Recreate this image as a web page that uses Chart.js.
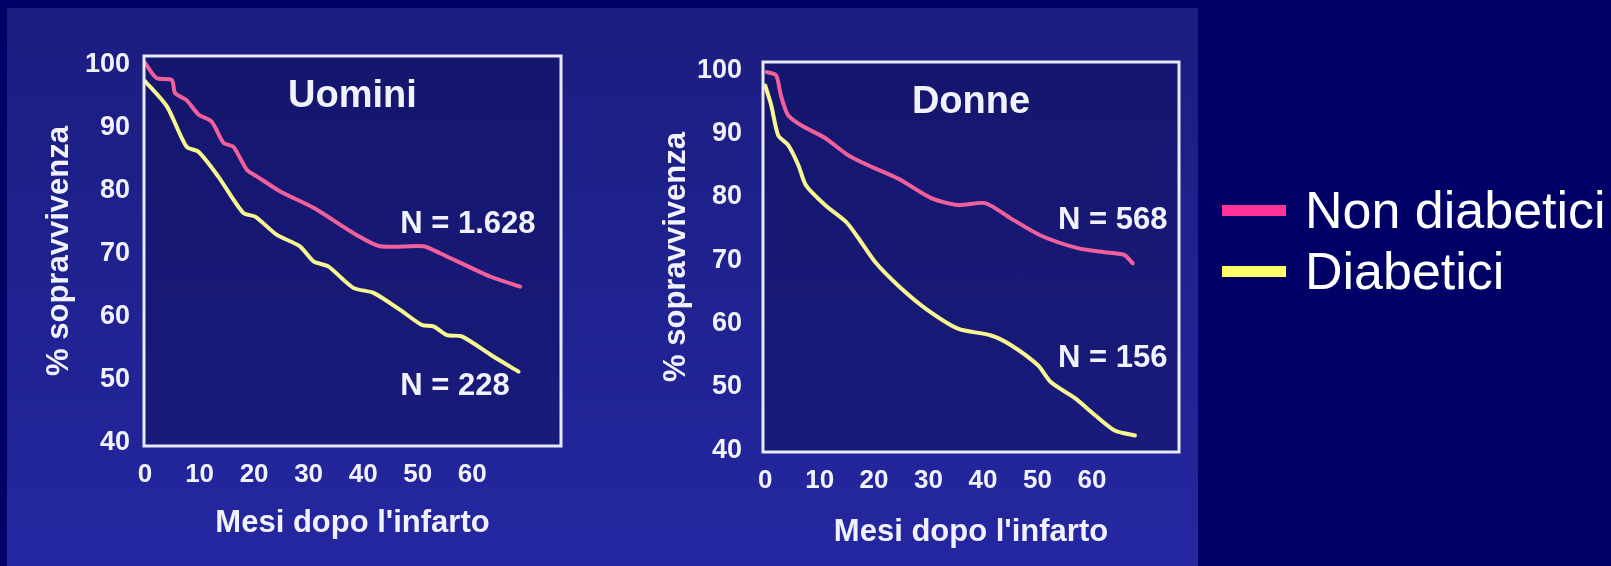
<!DOCTYPE html>
<html lang="it">
<head>
    <meta charset="UTF-8">
    <title>Sopravvivenza dopo infarto</title>
    <script src="https://cdn.jsdelivr.net/npm/chart.js@4/dist/chart.umd.min.js"></script>
    <style>
        body {
            margin: 0;
            width: 1611px;
            height: 566px;
            background: #000066;
            overflow: hidden;
            position: relative;
            font-family: "Liberation Sans", Arial, sans-serif;
        }

        #photo {
            position: absolute;
            left: 7px;
            top: 8px;
            width: 1191px;
            height: 558px;
            background: linear-gradient(to bottom, #1b1d80, #2427a0);
        }

        canvas {
            position: absolute;
            top: 0;
        }

        #chart-men { left: 0; }
        #chart-women { left: 610px; }

        .legend-row {
            position: absolute;
            left: 1222px;
            height: 61px;
            color: #ffffff;
            font-size: 52px;
            line-height: 61px;
            white-space: nowrap;
        }
        .legend-row span.swatch {
            display: inline-block;
            width: 64px;
            height: 11px;
            vertical-align: middle;
            margin-right: 19px;
            position: relative;
            top: -4px;
        }
    </style>
</head>
<body>
    <div id="photo"></div>
    <canvas id="chart-men" width="600" height="566"></canvas>
    <canvas id="chart-women" width="600" height="566"></canvas>

    <div class="legend-row" style="top:180px"><span class="swatch" style="background:#ff3399"></span>Non diabetici</div>
    <div class="legend-row" style="top:241px"><span class="swatch" style="background:#ffff66"></span>Diabetici</div>

    <script>
        // tick labels
        const xTicks = [0, 10, 20, 30, 40, 50, 60];
        const yTicks = [40, 50, 60, 70, 80, 90, 100];

        // Uomini (men)
        const menNonDiabMonths = [0, 2.1, 4.9, 5.5, 7.6, 9.8, 12.2, 14.4, 16.2, 18.7, 20.5, 24.8, 30.9, 38.8, 43.1, 51.1, 54.1, 63.3, 68.8];
        const menNonDiabSurv   = [100.3, 97.9, 97.6, 95.5, 94.4, 92.1, 91, 87.6, 87, 83.3, 82.3, 79.9, 77.3, 73, 71.2, 71.2, 70.1, 66.4, 64.8];
        const menDiabMonths = [0, 4, 7.6, 9.8, 13.4, 18, 20.2, 24.2, 28.4, 30.9, 33.6, 38.2, 41.9, 46.8, 50.8, 52.9, 55.4, 58.1, 63.9, 68.5];
        const menDiabSurv   = [97.4, 93.4, 87, 86.2, 82.3, 76.5, 75.9, 73, 71.2, 68.8, 68, 64.6, 63.8, 61.1, 58.7, 58.5, 57.1, 56.9, 53.7, 51.3];

        // Donne (women)
        const womenNonDiabMonths = [0.3, 2, 2.9, 4.2, 6.6, 11, 15.2, 18.9, 24.4, 30.5, 35.4, 40.4, 45.1, 50.6, 57.4, 62.9, 66, 67.5];
        const womenNonDiabSurv   = [99.7, 99.2, 96, 92.9, 91.3, 89.3, 86.6, 85, 82.9, 79.8, 78.7, 79, 76.6, 73.9, 71.9, 71.2, 70.8, 69.5];
        const womenDiabMonths = [0, 1.1, 2.4, 4.2, 6.1, 7.5, 11, 14.9, 17.1, 20.2, 24.4, 29.4, 35.4, 41.5, 45.1, 50.1, 52.5, 56.9, 60.6, 64.2, 67.9];
        const womenDiabSurv   = [97.6, 94.5, 89.7, 88.2, 85, 81.8, 78.7, 76, 73.5, 69.7, 66, 62.4, 59.2, 58.1, 56.6, 53.4, 50.7, 48.2, 45.5, 43.1, 42.3];

        const textColor = '#f2f2ff';
        const pink = '#f2609c';
        const yellow = '#f8f890';

        function toPoints(xs, ys) {
            return xs.map((x, i) => ({ x: x, y: ys[i] }));
        }

        // fills the plot box, draws the white frame and the texts inside it
        const panelBox = {
            id: 'panelBox',
            beforeDatasetsDraw(chart, args, opts) {
                const a = chart.chartArea;
                const ctx = chart.ctx;
                ctx.save();
                ctx.fillStyle = 'rgba(8, 8, 70, 0.35)';
                ctx.fillRect(a.left, a.top, a.right - a.left, a.bottom - a.top);
                ctx.restore();
            },
            afterDatasetsDraw(chart, args, opts) {
                const a = chart.chartArea;
                const ctx = chart.ctx;
                ctx.save();
                ctx.strokeStyle = '#e8eaff';
                ctx.lineWidth = 3;
                ctx.strokeRect(a.left, a.top, a.right - a.left, a.bottom - a.top);

                ctx.fillStyle = textColor;
                ctx.textBaseline = 'middle';
                ctx.textAlign = 'center';
                ctx.font = 'bold 38px "Liberation Sans", Arial, sans-serif';
                ctx.fillText(opts.heading, (a.left + a.right) / 2, a.top + 41);

                ctx.textAlign = 'left';
                ctx.font = 'bold 31px "Liberation Sans", Arial, sans-serif';
                opts.labels.forEach(l => {
                    ctx.fillText(l.text, chart.scales.x.getPixelForValue(l.x), chart.scales.y.getPixelForValue(l.y));
                });
                ctx.restore();
            }
        };

        function makePanel(canvasId, nonDiab, diab, cfg) {
            const ctx = document.getElementById(canvasId).getContext('2d');
            return new Chart(ctx, {
                type: 'line',
                data: {
                    datasets: [{
                        label: 'Non diabetici',
                        data: nonDiab,
                        borderColor: pink,
                        borderWidth: 4,
                        pointRadius: 0,
                        tension: 0.25,
                        borderCapStyle: 'round',
                        borderJoinStyle: 'round'
                    }, {
                        label: 'Diabetici',
                        data: diab,
                        borderColor: yellow,
                        borderWidth: 4,
                        pointRadius: 0,
                        tension: 0.25,
                        borderCapStyle: 'round',
                        borderJoinStyle: 'round'
                    }]
                },
                options: {
                    responsive: false,
                    animation: false,
                    devicePixelRatio: 1,
                    layout: { padding: cfg.padding },
                    plugins: {
                        legend: { display: false },
                        tooltip: { enabled: false },
                        panelBox: { heading: cfg.heading, labels: cfg.labels }
                    },
                    scales: {
                        x: {
                            type: 'linear',
                            min: cfg.xMin,
                            max: cfg.xMax,
                            afterBuildTicks: s => { s.ticks = xTicks.map(v => ({ value: v })); },
                            afterFit: s => { s.height = cfg.xHeight; },
                            grid: { display: false, drawTicks: false },
                            border: { display: false },
                            ticks: {
                                autoSkip: false,
                                maxRotation: 0,
                                padding: 13,
                                color: textColor,
                                font: { family: '"Liberation Sans", Arial, sans-serif', size: 26, weight: 'bold' }
                            },
                            title: {
                                display: true,
                                text: "Mesi dopo l'infarto",
                                color: textColor,
                                padding: { top: 0, bottom: cfg.xTitlePad },
                                font: { family: '"Liberation Sans", Arial, sans-serif', size: 31, weight: 'bold' }
                            }
                        },
                        y: {
                            min: cfg.yMin,
                            max: cfg.yMax,
                            afterBuildTicks: s => { s.ticks = yTicks.map(v => ({ value: v })); },
                            afterFit: s => { s.width = cfg.yWidth; },
                            grid: { display: false, drawTicks: false },
                            border: { display: false },
                            ticks: {
                                padding: cfg.yTickPad,
                                color: textColor,
                                font: { family: '"Liberation Sans", Arial, sans-serif', size: 27, weight: 'bold' }
                            },
                            title: {
                                display: true,
                                text: '% sopravvivenza',
                                color: textColor,
                                padding: { top: cfg.yTitlePad, bottom: 0 },
                                font: { family: '"Liberation Sans", Arial, sans-serif', size: 31, weight: 'bold' }
                            }
                        }
                    }
                },
                plugins: [panelBox]
            });
        }

        makePanel('chart-men',
            toPoints(menNonDiabMonths, menNonDiabSurv),
            toPoints(menDiabMonths, menDiabSurv), {
                heading: 'Uomini',
                labels: [
                    { text: 'N = 1.628', x: 46.8, y: 74.6 },
                    { text: 'N = 228', x: 46.8, y: 48.9 }
                ],
                padding: { left: 0, top: 56, right: 39, bottom: 0 },
                xMin: -0.2, xMax: 76.3, yMin: 39.5, yMax: 101.4,
                xHeight: 120, yWidth: 144,
                yTickPad: 14, xTitlePad: 24, yTitlePad: 41
            });

        makePanel('chart-women',
            toPoints(womenNonDiabMonths, womenNonDiabSurv),
            toPoints(womenDiabMonths, womenDiabSurv), {
                heading: 'Donne',
                labels: [
                    { text: 'N = 568', x: 53.8, y: 76.3 },
                    { text: 'N = 156', x: 53.8, y: 54.5 }
                ],
                padding: { left: 0, top: 62, right: 31, bottom: 0 },
                xMin: -0.4, xMax: 76, yMin: 39.7, yMax: 101.3,
                xHeight: 114, yWidth: 153,
                yTickPad: 21, xTitlePad: 15, yTitlePad: 48
            });
    </script>
</body>
</html>
